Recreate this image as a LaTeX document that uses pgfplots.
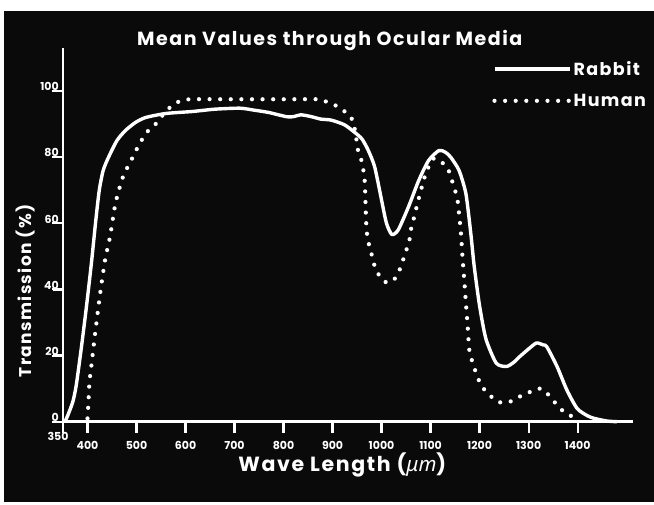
\documentclass[border=0pt]{standalone}
\usepackage{fontspec}
\setmainfont{Poppins}
\newfontfamily\mufont{Noto Sans}
\newfontfamily\titlefont{Poppins}[LetterSpace=8]
\usepackage{pgfplots}
\pgfplotsset{compat=1.18}
\pgfplotsset{legend image code/.code={\draw[#1] (1pt,0pt) -- (76pt,0pt);}}
\begin{document}
\begin{tikzpicture}
\fill[white] (-63pt,-82.3pt) rectangle (591pt,421.7pt);
\fill[black!96] (-59pt,-80.3pt) rectangle (591pt,410.7pt);
\begin{axis}[
  at={(0pt,0pt)}, anchor=south west,
  scale only axis, width=570pt, height=373.7pt,
  xmin=350, xmax=1513, ymin=0, ymax=113,
  axis x line=bottom, axis y line=left,
  axis line style={-, white, line width=2.6pt},
  clip=false,
  xtick={350,400,500,600,700,800,900,1000,1100,1200,1300,1400},
  xticklabels={\raisebox{9pt}[\height][\depth]{\hspace*{-10pt}350},400,500,600,700,800,900,1000,1100,1200,1300,1400},
  ytick={0,20,40,...,100},
  tick align=outside,
  major tick length=11pt,
  every tick/.style={white, line width=2pt},
  /pgf/number format/assume math mode=true,
  /pgf/number format/1000 sep={},
  tick label style={text=white, font=\bfseries\fontsize{11}{12}\selectfont},
  xticklabel style={yshift=-5pt},
  yticklabel style={anchor=south east, inner sep=1pt, xshift=8pt, yshift=-1pt},
  title={\titlefont\bfseries\fontsize{19}{21}\selectfont Mean Values through Ocular Media},
  title style={text=white, at={(0.468,1)}, anchor=south, yshift=-12pt},
  xlabel={\titlefont\bfseries\fontsize{20.5}{22}\selectfont Wave Length ({\mufont\itshape μm})},
  xlabel style={text=white, at={(0.49,0)}, anchor=north, yshift=-28pt},
  ylabel={\titlefont\bfseries\fontsize{17}{19}\selectfont Transmission (\%)},
  ylabel style={text=white, at={(0,0.35)}, anchor=south, yshift=24pt},
  legend style={draw=none, fill=none, text=white, font=\titlefont\bfseries\fontsize{17.5}{19}\selectfont,
    at={(0.753,0.97)}, anchor=north west, row sep=13pt, inner sep=0pt},
  legend cell align=left,
]
\addplot[white, line width=3.4pt, line join=round, smooth, tension=0.4]
  coordinates {
(354,0) (360,2) (370,6) (377,11) (388,23) (398,35) (408,48) (417,61)
(424,70) (432,76) (443,80) (460,85) (477,88) (498,90.5) (519,92)
(560,93.2) (614,93.8) (660,94.5) (711,94.8) (740,94.2) (770,93.5)
(807,92.2) (822,92.3) (835,92.8) (855,92.3) (876,91.5) (897,91.2)
(924,89.8) (945,87.5) (960,85.5) (973,82) (986,77) (1000,67) (1010,60)
(1021,56.6) (1034,58) (1055,65) (1076,73) (1096,79) (1117,82) (1130,81.5)
(1141,80) (1158,76) (1172,69) (1182,57) (1189,47) (1200,35) (1213,25)
(1234,17.7) (1255,16.7) (1270,18) (1282,19.7) (1300,22) (1316,23.8)
(1330,23.2) (1337,22.7) (1358,16.7) (1378,9.6) (1399,4) (1420,1.8)
(1434,1) (1460,0.2) (1480,0)
};
\addlegendentry{Rabbit}
\addplot[white, line width=4.2pt, line cap=round, dash pattern=on 0pt off 10.6pt, smooth, tension=0.4]
  coordinates {
(400,1) (402,6) (404,12) (408,17) (415,26) (426,39) (436,49) (446,56)
(457,66) (470,73) (477,75.6) (488,78.7) (499,82) (510,85) (522,87.7)
(539,90) (555,93) (568,95) (589,97) (611,97.5) (700,97.5) (800,97.5)
(870,97.5) (883,97) (904,95.8) (923,94) (938,92) (946,88) (952,82)
(959,79) (964,75) (966,72) (967,67) (969,59) (972,55) (979,51) (986,47)
(996,44) (1005,42.5) (1014,42) (1025,43) (1031,44) (1041,47.5) (1048,51)
(1056,54) (1059,57.5) (1065,61) (1075,67) (1090,75) (1105,79.5) (1117,79)
(1134,77) (1141,74) (1148,71) (1155,67) (1158,63) (1162,57) (1165,50)
(1168.6,43) (1172,36) (1175.6,29) (1179,21.7) (1186,17.7) (1193,14.7)
(1203,11) (1217,8.6) (1237,6) (1261,6) (1282,7.6) (1303,9) (1320,10)
(1327,10) (1344,7.6) (1358,5) (1372,3) (1385,2) (1390,1)
};
\addlegendentry{Human}
\pgfplotsinvokeforeach{400,500,600,700,800,900,1000,1100,1200,1300,1400}{
  \draw[white, line width=2.2pt] (axis cs:#1,0) -- ++(0pt,-11pt);
}
\pgfplotsinvokeforeach{20,40,60,80,100}{
  \draw[white, line width=2.2pt] (axis cs:350,#1) -- ++(-10pt,0pt);
}
\end{axis}
\pgfresetboundingbox
\path[use as bounding box] (-63pt,-82.3pt) rectangle (591pt,421.7pt);
\end{tikzpicture}
\end{document}
